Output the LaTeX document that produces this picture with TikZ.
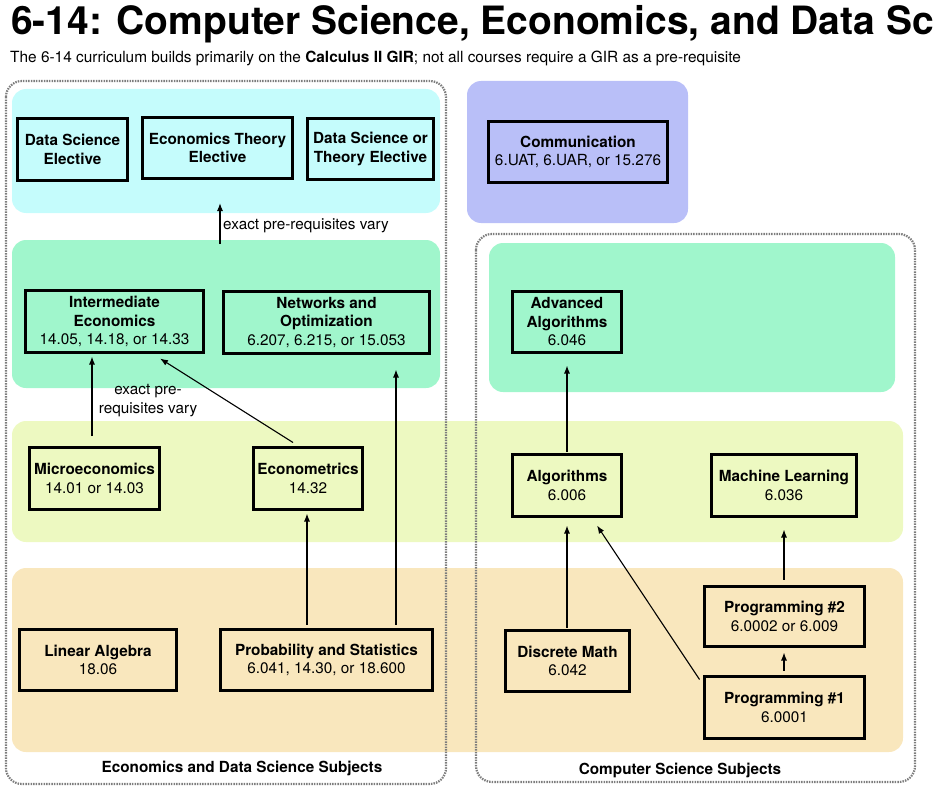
\documentclass[tikz,border=0pt]{standalone}
\usepackage{fontspec}
\setmainfont{TeX Gyre Heros}
\usetikzlibrary{arrows.meta}
\definecolor{cyanband}{RGB}{197,252,252}
\definecolor{purpleband}{RGB}{185,191,248}
\definecolor{greenband}{RGB}{160,246,204}
\definecolor{yellowband}{RGB}{237,249,193}
\definecolor{orangeband}{RGB}{249,231,189}
\definecolor{dotgray}{RGB}{125,125,125}
\begin{document}
\begin{tikzpicture}[x=1pt,y=-1pt,
  crs/.style={draw=black, line width=3pt, inner sep=0pt, align=center,
    font=\fontsize{15.3}{18.5}\selectfont},
  arr/.style={-{Latex[length=8pt,width=6pt]}, line width=1.1pt},
  band/.style={rounded corners=14pt},
  grp/.style={draw=dotgray, line width=2.2pt, dash pattern=on 1.5pt off 1.1pt, rounded corners=16pt},
  lbl/.style={font=\fontsize{15.3}{18.5}\selectfont, inner sep=0pt},
  hdr/.style={font=\fontsize{15.3}{18.5}\selectfont\bfseries, inner sep=0pt}
]
\useasboundingbox (0,0) rectangle (939,797);

% title
\node[anchor=base west, inner sep=0pt, font=\fontsize{39}{44}\selectfont\bfseries] (title) at (11,35)
  {6-14: Computer Science, Economics, and Data Sc};
\node[anchor=base west, inner sep=0pt, font=\fontsize{15.4}{18}\selectfont] (subtitle) at (10,63)
  {The 6-14 curriculum builds primarily on the \textbf{Calculus II GIR}; not all courses require a GIR as a pre-requisite};

% bands
\fill[cyanband, band] (12,89) rectangle (440,213);
\fill[purpleband, band] (467,81) rectangle (688,223);
\fill[greenband, band] (12,240) rectangle (440,388);
\fill[greenband, band] (489,243) rectangle (895,392);
\fill[yellowband, band] (12,421) rectangle (903,542);
\fill[orangeband, band] (12,568) rectangle (903,752);

% group outlines
\draw[grp] (6,81) rectangle (446,784);
\draw[grp] (476,234) rectangle (915,782);

% course boxes
\node[crs, minimum width=110pt, minimum height=62pt] (dse) at (72.5,149.5) {\textbf{Data Science}\\\textbf{Elective}};
\node[crs, minimum width=150pt, minimum height=61pt] (ete) at (217.5,148) {\textbf{Economics Theory}\\\textbf{Elective}};
\node[crs, minimum width=126pt, minimum height=61pt] (dsot) at (370.5,149) {\textbf{Data Science or}\\\textbf{Theory Elective}};
\node[crs, minimum width=179pt, minimum height=61pt] (comm) at (578,152) {\textbf{Communication}\\6.UAT, 6.UAR, or 15.276};
\node[crs, minimum width=178pt, minimum height=62pt] (ie) at (114.5,321.5) {\textbf{Intermediate}\\\textbf{Economics}\\14.05, 14.18, or 14.33};
\node[crs, minimum width=206pt, minimum height=62pt] (no) at (326.5,322.5) {\textbf{Networks and}\\\textbf{Optimization}\\6.207, 6.215, or 15.053};
\node[crs, minimum width=109pt, minimum height=61pt] (aa) at (567,322) {\textbf{Advanced}\\\textbf{Algorithms}\\6.046};
\node[crs, minimum width=130pt, minimum height=62pt] (micro) at (94.5,478.5) {\textbf{Microeconomics}\\14.01 or 14.03};
\node[crs, minimum width=109pt, minimum height=62pt] (econ) at (308,478.5) {\textbf{Econometrics}\\14.32};
\node[crs, minimum width=109pt, minimum height=62pt] (algo) at (567,485.5) {\textbf{Algorithms}\\6.006};
\node[crs, minimum width=145pt, minimum height=62pt] (ml) at (784,485.5) {\textbf{Machine Learning}\\6.036};
\node[crs, minimum width=157pt, minimum height=61pt] (la) at (98,660) {\textbf{Linear Algebra}\\18.06};
\node[crs, minimum width=212pt, minimum height=61pt] (ps) at (326.5,660) {\textbf{Probability and Statistics}\\6.041, 14.30, or 18.600};
\node[crs, minimum width=124pt, minimum height=61pt] (dm) at (567.5,661) {\textbf{Discrete Math}\\6.042};
\node[crs, minimum width=160pt, minimum height=60pt] (p2) at (784.5,616.5) {\textbf{Programming \#2}\\6.0002 or 6.009};
\node[crs, minimum width=160pt, minimum height=62pt] (p1) at (784.5,707.5) {\textbf{Programming \#1}\\6.0001};

% labels
\node[lbl, anchor=west] (vary1) at (223,226) {exact pre-requisites vary};
\node[lbl, align=center] (vary2) at (148,400.5) {exact pre-\\requisites vary};
\node[hdr] (edsub) at (242,768) {Economics and Data Science Subjects};
\node[hdr] (cssub) at (680,770) {Computer Science Subjects};

% connectors
\coordinate (upA) at (220,244);
\coordinate (upB) at (220,203);
\draw[arr] (upA) -- (upB);
\coordinate (mtop) at (92,436);
\draw[arr] (mtop) -- ([xshift=-22.5pt,yshift=-2.5pt]ie.south);
\draw[arr] ([xshift=-15pt,yshift=3.5pt]econ.north) -- ([xshift=45.5pt,yshift=-4.5pt]ie.south);
\draw[arr] ([xshift=-19.5pt,yshift=3.5pt]ps.north) -- ([xshift=-1pt,yshift=-2.5pt]econ.south);
\draw[arr] ([xshift=69.5pt,yshift=3.5pt]ps.north) -- ([xshift=69.5pt,yshift=-14.5pt]no.south);
\draw[arr] ([yshift=1.5pt]algo.north) -- ([yshift=-11.5pt]aa.south);
\draw[arr] ([xshift=-0.5pt,yshift=1.5pt]dm.north) -- ([yshift=-7.5pt]algo.south);
\draw[arr] ([xshift=-3.5pt,yshift=-4.5pt]p1.north west) -- ([xshift=30pt,yshift=-7.5pt]algo.south);
\draw[arr] ([xshift=-0.5pt,yshift=4.5pt]p1.north) -- ([xshift=-0.5pt,yshift=-4.5pt]p2.south);
\draw[arr] ([xshift=-0.5pt,yshift=5.5pt]p2.north) -- ([yshift=-11.5pt]ml.south);
\end{tikzpicture}
\end{document}
